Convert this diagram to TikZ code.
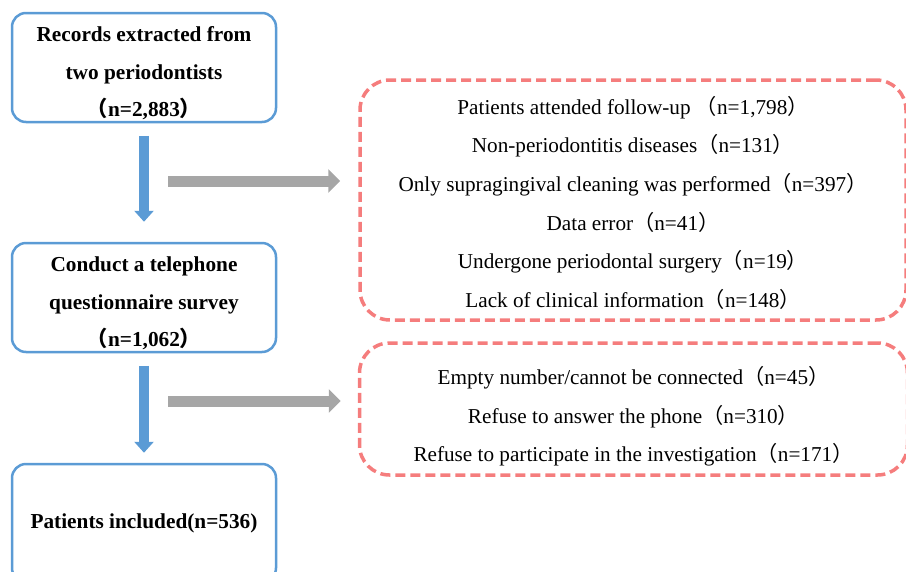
\documentclass[tikz,border=0pt]{standalone}
\usepackage{fontspec}
\setmainfont{Liberation Serif}
\newfontfamily\cjk{Noto Sans CJK SC}
\usetikzlibrary{arrows.meta}
\definecolor{boxblue}{RGB}{91,155,213}
\definecolor{arrgray}{RGB}{166,166,166}
\definecolor{dashred}{RGB}{245,125,125}
\newcommand{\lp}{{\cjk （}}
\newcommand{\rp}{{\cjk ）}}
\newcommand{\topstrut}[1]{\rule{0pt}{#1}}
\tikzset{
  mainbox/.style={draw=boxblue, line width=2.5pt, rounded corners=14pt, minimum width=264pt, align=center,
     font=\fontsize{21.3}{37.5}\selectfont\bfseries, inner sep=0pt},
  exclbox/.style={draw=dashred, line width=3.5pt, dash pattern=on 10pt off 5pt, rounded corners=30pt, align=center,
     font=\fontsize{21.2}{38.6}\selectfont, inner sep=0pt},
  downarrow/.style={draw=boxblue, line width=10pt, -{Triangle[width=19pt,length=11pt]}},
  sidearrow/.style={draw=arrgray, line width=11pt, -{Triangle[width=23pt,length=12pt]}}
}
\begin{document}
\begin{tikzpicture}[x=1pt,y=-1pt]
\useasboundingbox (0,0) rectangle (906,571);
\clip (0,0) rectangle (906,571);
\node[mainbox, minimum height=109pt] (b1) at (144,67.5) {\topstrut{26.7pt}Records extracted from\\two periodontists\\\lp n=2,883\rp};
\node[mainbox, minimum height=109pt] (b2) at (144,297.5) {\topstrut{26.7pt}Conduct a telephone\\questionnaire survey\\\lp n=1,062\rp};
\node[mainbox, minimum height=118pt] (b3) at (144,523) {Patients included(n=536)};
\node[exclbox, minimum width=546pt, minimum height=240pt] (e1) at (633,200) {\topstrut{23.7pt}Patients attended follow-up \lp n=1,798\rp\\Non-periodontitis diseases\lp n=131\rp\\Only supragingival cleaning was performed\lp n=397\rp\\Data error\lp n=41\rp\\Undergone periodontal surgery\lp n=19\rp\\Lack of clinical information\lp n=148\rp};
\node[exclbox, minimum width=548pt, minimum height=132pt] (e2) at (633.5,409) {\topstrut{32.7pt}Empty number/cannot be connected\lp n=45\rp\\Refuse to answer the phone\lp n=310\rp\\Refuse to participate in the investigation\lp n=171\rp};
\draw[downarrow, shorten <=12.5pt, shorten >=20pt] (b1.south) -- (b2.north);
\draw[downarrow, shorten <=12.5pt, shorten >=10pt] (b2.south) -- (b3.north);
\coordinate (g1) at (168,181);
\coordinate (g2) at (168,401);
\draw[sidearrow, shorten >=18pt] (g1) -- (e1.west |- g1);
\draw[sidearrow, shorten >=17pt] (g2) -- (e2.west |- g2);
\end{tikzpicture}
\end{document}
